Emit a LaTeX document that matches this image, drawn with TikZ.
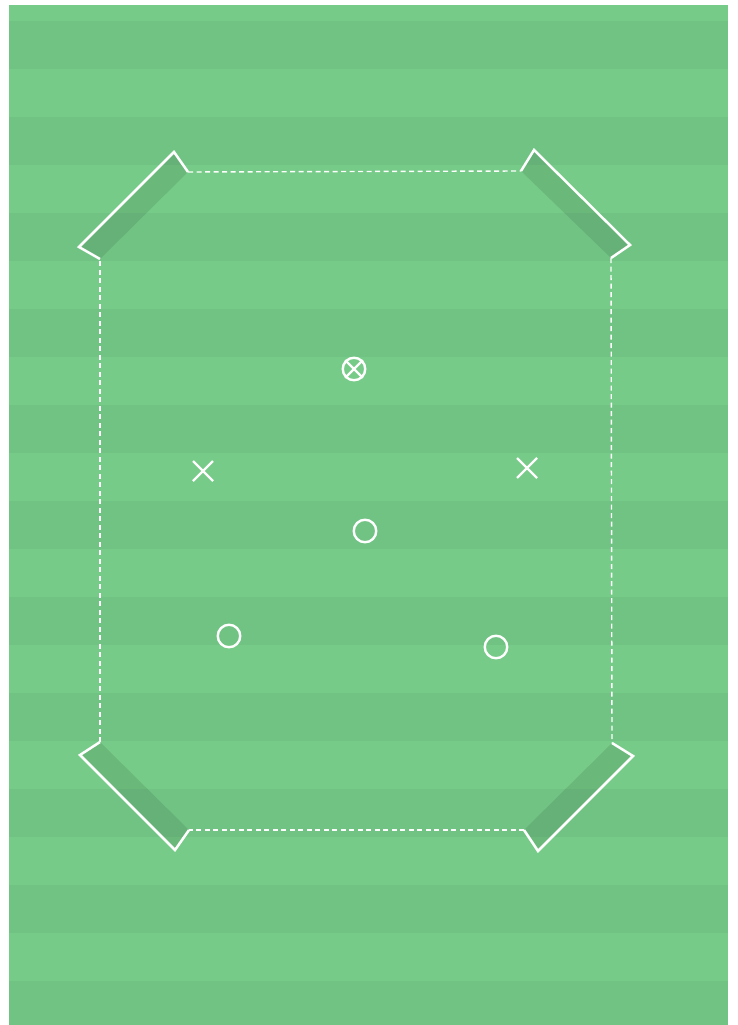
\documentclass[tikz,border=0pt]{standalone}
\begin{document}
\begin{tikzpicture}[x=1pt,y=-1pt,
  fieldline/.style={white,line width=1.4pt,dash pattern=on 5pt off 3.5pt},
  goalline/.style={white,line width=2.5pt,line join=miter},
  goalfill/.style={fill=black,fill opacity=0.09},
  player/.style={circle,draw=white,line width=2.4pt,minimum size=22.5pt,inner sep=0pt},
  cross/.style={white,line width=2.3pt},
]
\definecolor{lightturf}{RGB}{118,203,136}
\definecolor{darkturf}{RGB}{113,195,132}
\useasboundingbox (0,0) rectangle (737,1025);
\fill[white] (0,0) rectangle (737,1025);
\fill[lightturf] (9,5) rectangle (728,1025);
\foreach \k in {0,...,10} {
  \fill[darkturf] (9,{21+96*\k}) rectangle (728,{min(69+96*\k,1025)});
}
% corners of the pitch (ends of goals)
\coordinate (tlA) at (188,172);
\coordinate (tlB) at (100,259);
\coordinate (trA) at (521,171);
\coordinate (trB) at (611,258);
\coordinate (blA) at (100,742);
\coordinate (blB) at (189,830);
\coordinate (brA) at (612,743);
\coordinate (brB) at (524,830);
% dashed boundary
\draw[fieldline] (tlA) -- (trA);
\draw[fieldline] (trB) -- (brA);
\draw[fieldline] (brB) -- (blB);
\draw[fieldline] (blA) -- (tlB);
% goals
\fill[goalfill] (tlA) -- (174,152) -- (79,247) -- (tlB) -- cycle;
\draw[goalline] (tlA) -- (174,152) -- (79,247) -- (tlB);
\fill[goalfill] (trA) -- (534,150) -- (630,245) -- (trB) -- cycle;
\draw[goalline] (trA) -- (534,150) -- (630,245) -- (trB);
\fill[goalfill] (blA) -- (80,755) -- (175,850) -- (blB) -- cycle;
\draw[goalline] (blA) -- (80,755) -- (175,850) -- (blB);
\fill[goalfill] (brA) -- (633,756) -- (538,851) -- (brB) -- cycle;
\draw[goalline] (brA) -- (633,756) -- (538,851) -- (brB);
% players
\node[player] (ball) at (354,369) {};
\draw[cross] (ball.45) -- (ball.225) (ball.135) -- (ball.315);
\coordinate (x1) at (203,471);
\coordinate (x2) at (527,468);
\draw[cross] ([shift={(-10,-10)}]x1) -- ([shift={(10,10)}]x1) ([shift={(-10,10)}]x1) -- ([shift={(10,-10)}]x1);
\draw[cross] ([shift={(-10,-10)}]x2) -- ([shift={(10,10)}]x2) ([shift={(-10,10)}]x2) -- ([shift={(10,-10)}]x2);
\node[player] (o1) at (365,531) {};
\node[player] (o2) at (229,636) {};
\node[player] (o3) at (496,647) {};
\end{tikzpicture}
\end{document}
